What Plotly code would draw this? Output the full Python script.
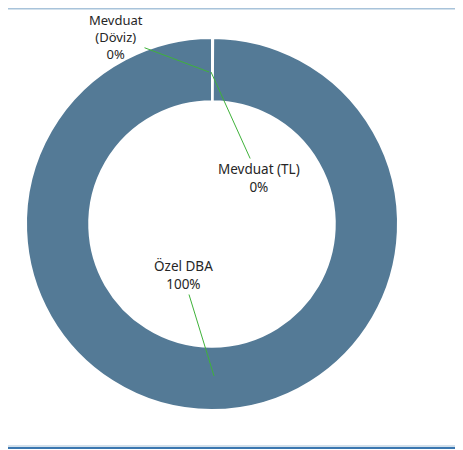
import plotly.graph_objects as go

# slice data (two near-zero deposits, all the rest in DBA)
labels = ["Mevduat (TL)", "Mevduat (Döviz)", "Özel DBA"]
label_text = ["Mevduat (TL)", "Mevduat<br>(Döviz)", "Özel DBA"]
values = [0.05, 0.05, 99.9]

# the page has an 8px body margin, so work in page pixels and shift back
OFF = 8
W, H = 463 - OFF, 450 - OFF


def fx(px):
    return (px - OFF) / W


def fy(py):
    return 1 - (py - OFF) / H


total = sum(values)
pcts = [f"{round(v / total * 100)}%" for v in values]

R = 186
cx, cy = 212, 224

fig = go.Figure()
fig.add_trace(go.Pie(
    labels=labels,
    values=values,
    hole=0.66,
    sort=False,
    direction="clockwise",
    rotation=0,
    marker=dict(colors=["#547A96"] * 3, line=dict(color="white", width=2)),
    textinfo="none",
    hoverinfo="label+percent",
    showlegend=False,
    domain=dict(x=[fx(cx - R), fx(cx + R)], y=[fy(cy + R), fy(cy - R)]),
))

# label positions in page pixels: (arrow tip x, tip y, text offset x, offset y, font size)
label_pos = [(211, 72, 48, 106, 13.5), (209, 72, -93, -35, 13), (214, 376, -31, -101, 13.5)]
for txt, pct, (px, py, ax, ay, fs) in zip(label_text, pcts, label_pos):
    fig.add_annotation(
        x=fx(px), y=fy(py), xref="paper", yref="paper",
        text=f"{txt}<br>{pct}", showarrow=True, arrowhead=0,
        arrowcolor="#3FB23A", arrowwidth=1, ax=ax, ay=ay,
        font=dict(family="Noto Sans", size=fs, color="#262626"),
        align="center",
    )

# thin frame lines at the top and bottom of the picture
fig.add_shape(type="line", xref="paper", yref="paper", x0=0, x1=1, y0=fy(OFF + 0.5), y1=fy(OFF + 0.5),
              line=dict(color="#A8C3DA", width=2))
fig.add_shape(type="line", xref="paper", yref="paper", x0=0, x1=1, y0=fy(446), y1=fy(446),
              line=dict(color="#A8C3DA", width=1))
fig.add_shape(type="line", xref="paper", yref="paper", x0=0, x1=1, y0=fy(448), y1=fy(448),
              line=dict(color="#3B77B0", width=2))

fig.update_layout(
    width=W, height=H,
    margin=dict(l=0, r=0, t=0, b=0),
    paper_bgcolor="white", plot_bgcolor="white",
)

fig.write_html("out.html")
